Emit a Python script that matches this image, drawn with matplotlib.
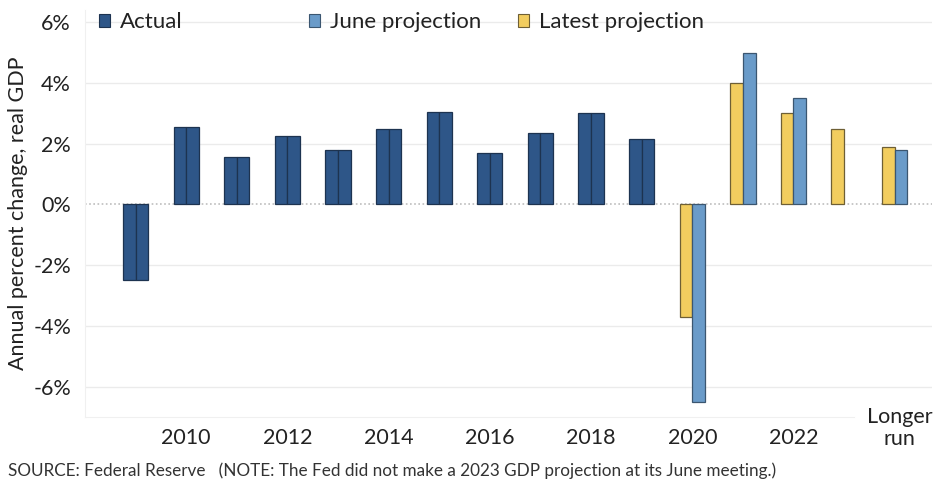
import numpy as np
import matplotlib
matplotlib.use('Agg')
import matplotlib.pyplot as plt
import matplotlib.transforms as mtransforms
from matplotlib.patches import Patch

plt.rcParams['font.family'] = ['Lato', 'DejaVu Sans']

# data (percent change, real GDP)
categories = ['2009', '2010', '2011', '2012', '2013', '2014', '2015', '2016',
              '2017', '2018', '2019', '2020', '2021', '2022', '2023', 'Longer\nrun']
actual_years = ['2009', '2010', '2011', '2012', '2013', '2014', '2015', '2016',
                '2017', '2018', '2019']
actual = [-2.5, 2.55, 1.55, 2.25, 1.8, 2.5, 3.05, 1.7, 2.35, 3.0, 2.15]
proj_years = ['2020', '2021', '2022', '2023', 'Longer\nrun']
latest = [-3.7, 4.0, 3.0, 2.5, 1.9]
june = [-6.5, 5.0, 3.5, np.nan, 1.8]  # no June projection for 2023
tick_labels = ['2010', '2012', '2014', '2016', '2018', '2020', '2022', 'Longer\nrun']

c_actual = '#2e5688'
c_june = '#6a9bc9'
c_latest = '#f2cd5f'

fig = plt.figure(figsize=(9.34, 4.86), dpi=100)
ax = fig.add_axes([0.091, 0.142, 0.907, 0.837])

pos = {c: i for i, c in enumerate(categories)}
xa = np.array([pos[c] for c in actual_years])
xp = np.array([pos[c] for c in proj_years])
w = 0.25

# actual values fill both halves of the slot
ax.bar(xa - w / 2, actual, w, color=c_actual, edgecolor='#1d3350', linewidth=0.9, zorder=3)
ax.bar(xa + w / 2, actual, w, color=c_actual, edgecolor='#1d3350', linewidth=0.9, zorder=3)
ax.bar(xp - w / 2, latest, w, color=c_latest, edgecolor='#6e5f35', linewidth=0.9, zorder=3)
ax.bar(xp + w / 2, june, w, color=c_june, edgecolor='#3b5670', linewidth=0.9, zorder=3)

ax.set_xlim(-1.0, 15.74)
ax.set_ylim(-7, 6.4)
ax.set_yticks([-6, -4, -2, 0, 2, 4, 6])
ax.set_yticklabels(['-6%', '-4%', '-2%', '0%', '2%', '4%', '6%'])
ax.set_xticks([pos[c] for c in tick_labels])
ax.set_xticklabels(tick_labels, va='center', linespacing=1.15)
ax.tick_params(axis='both', length=0, labelsize=15.5, colors='#222222')
ax.tick_params(axis='x', pad=15)
ax.tick_params(axis='y', pad=10)
# lift the two-line label, as in the original
lr = ax.get_xticklabels()[-1]
lr.set_transform(lr.get_transform() + mtransforms.ScaledTranslation(0.05, 0.10, fig.dpi_scale_trans))

for y in [-6, -4, -2, 2, 4, 6]:
    ax.axhline(y, color='#ebebeb', linewidth=1, zorder=0)
ax.axhline(0, color='#bdbdbd', linewidth=1.2, linestyle=(0, (1, 1.5)), zorder=1)

for s in ax.spines.values():
    s.set_visible(False)
ax.spines['left'].set_visible(True)
ax.spines['bottom'].set_visible(True)
ax.spines['left'].set_color('#f0f0f0')
ax.spines['bottom'].set_color('#f0f0f0')
ax.spines['bottom'].set_bounds(-1.0, 14.2)  # stops short of the "Longer run" label

ax.set_ylabel('Annual percent change, real GDP', fontsize=15.5, color='#222222', labelpad=4)

# legend entries sit in equal-width slots across the top
entries = [('Actual', c_actual, '#1d3350'), ('June projection', c_june, '#3b5670'),
           ('Latest projection', c_latest, '#6e5f35')]
for i, (lab, col, ec) in enumerate(entries):
    leg = ax.legend(handles=[Patch(facecolor=col, edgecolor=ec, linewidth=0.8, label=lab)],
                    loc='center left', bbox_to_anchor=(0.0165 + i * 0.2475, 0.97),
                    frameon=False, fontsize=16, handlelength=0.5, handleheight=0.5,
                    handletextpad=0.45, borderpad=0, borderaxespad=0)
    for t in leg.get_texts():
        t.set_color('#222222')
    ax.add_artist(leg)
ax.legend_ = None

fig.text(0.009, 0.02, 'SOURCE: Federal Reserve   (NOTE: The Fed did not make a 2023 GDP projection at its June meeting.)',
         fontsize=12.3, color='#333333')

fig.savefig('out.png', dpi=100, facecolor='white')
